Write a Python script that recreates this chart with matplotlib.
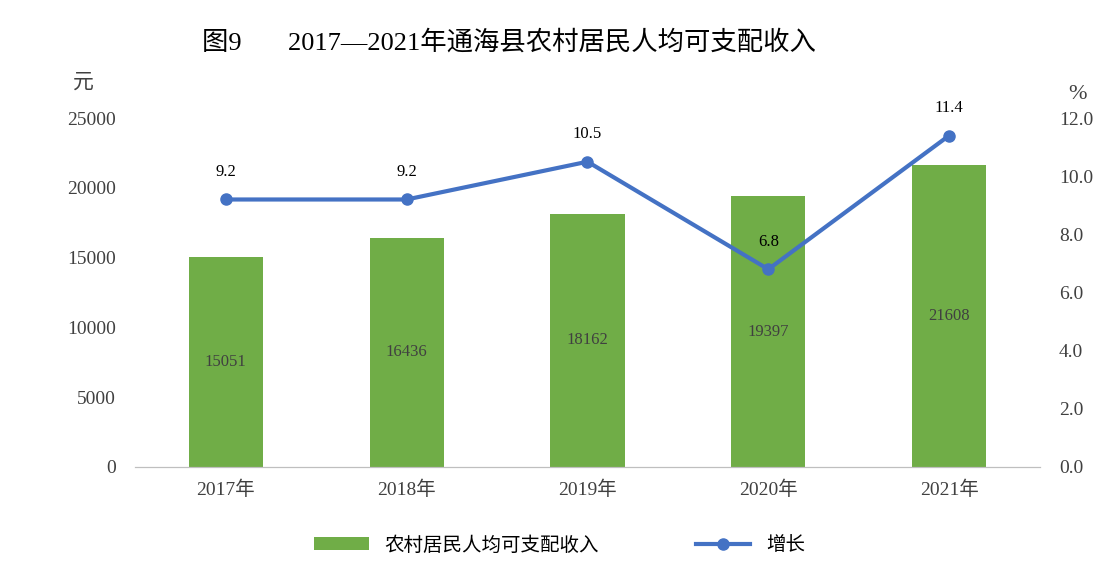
import matplotlib
matplotlib.use("Agg")
import matplotlib.pyplot as plt

years = ["2017年", "2018年", "2019年", "2020年", "2021年"]
income = [15051, 16436, 18162, 19397, 21608]
growth = [9.2, 9.2, 10.5, 6.8, 11.4]

FAM = ["Liberation Serif", "Noto Sans CJK SC"]
plt.rcParams["font.family"] = FAM

fig = plt.figure(figsize=(11.19, 5.65), dpi=100)
ax = fig.add_axes([0.121, 0.1735, 0.808, 0.6175])
ax2 = ax.twinx()

x = list(range(len(years)))
bars = ax.bar(x, income, width=0.41, color="#70AD47", label="农村居民人均可支配收入", zorder=2)
for xi, v in zip(x, income):
    ax.text(xi, v / 2, str(v), ha="center", va="center", fontsize=12, color="#404040")
ax.set_ylim(0, 25000)
ax.set_yticks(range(0, 25001, 5000))
ax.set_xlim(-0.5, 4.5)
ax.set_xticks(x)
ax.set_xticklabels(years)

ln, = ax2.plot(x, growth, color="#4472C4", lw=3, marker="o", ms=8, label="增长", zorder=3)
for xi, v in zip(x, growth):
    ax2.annotate(f"{v:.1f}", (xi, v), xytext=(0, 14), textcoords="offset points",
                 ha="center", va="bottom", fontsize=12, color="black")
ax2.set_ylim(0, 12)
ax2.set_yticks([0, 2, 4, 6, 8, 10, 12])
ax2.set_yticklabels([f"{t:.1f}" for t in [0, 2, 4, 6, 8, 10, 12]])

for a in (ax, ax2):
    for s in ["top", "left", "right"]:
        a.spines[s].set_visible(False)
    a.spines["bottom"].set_color("#BFBFBF")
    a.tick_params(length=0, labelsize=14, colors="#404040")
ax.tick_params(axis="x", pad=10)
ax.tick_params(axis="y", pad=14)
ax2.tick_params(axis="y", pad=14)

fig.text(0.065, 0.845, "元", fontsize=15, color="#404040")
fig.text(0.955, 0.825, "%", fontsize=16, color="#404040")
fig.text(0.455, 0.925, "图9       2017—2021年通海县农村居民人均可支配收入",
         ha="center", va="center", fontsize=19, color="black")

fig.legend([bars, ln], ["农村居民人均可支配收入", "增长"], loc="center",
           bbox_to_anchor=(0.5, 0.035), ncol=2, frameon=False, fontsize=14,
           columnspacing=5, handlelength=2.8)

fig.savefig("out.png", dpi=100)
